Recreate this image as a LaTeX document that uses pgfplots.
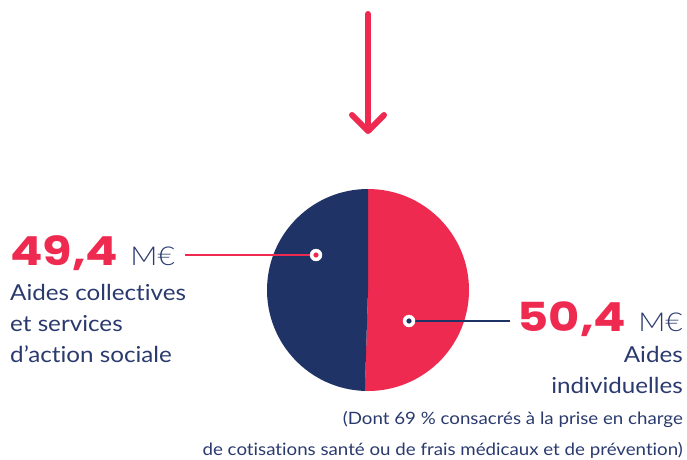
\documentclass[border=0pt]{standalone}
\usepackage{fontspec}
\setmainfont{Lato}[FakeStretch=1.1, RawFeature=-liga]
\newfontfamily\numfont{Poppins}[FakeStretch=1.2]
\newfontfamily\lightfont{Lato}[UprightFont={* Light}, FakeStretch=1.15]
\usepackage{pgfplots}
\usepackage{pgfplotstable}
\pgfplotsset{compat=1.18}
\definecolor{pink}{HTML}{EE2A50}
\definecolor{navy}{HTML}{1F3366}
\definecolor{txt}{HTML}{2A3A6E}
\pgfplotstableread{
label value
collective 49.4
individual 50.4
}\piedata
\pgfplotstablegetelem{0}{value}\of\piedata \let\va\pgfplotsretval
\pgfplotstablegetelem{1}{value}\of\piedata \let\vb\pgfplotsretval
\pgfmathsetmacro{\redfrac}{\vb/(\va+\vb)}
\pgfmathsetmacro{\redend}{90-360*\redfrac}
\begin{document}
\begin{tikzpicture}
\begin{axis}[
  width=687pt, height=459pt, scale only axis,
  xmin=0, xmax=687, ymin=0, ymax=459, y dir=reverse,
  hide axis, clip=false,
]
% pie
\fill[pink] (axis cs:368,290) -- ++(90:101pt) arc[start angle=90, end angle=\redend, radius=101pt] -- cycle;
\fill[navy] (axis cs:368,290) -- ++(\redend:101pt) arc[start angle=\redend, end angle=-270, radius=101pt] -- cycle;
% leader lines
\addplot[pink, line width=1.3pt, no marks] coordinates {(185,255) (316,255)};
\addplot[navy, line width=1.3pt, no marks] coordinates {(409,321) (510,321)};
\addplot[only marks, mark=*, mark size=6pt, white, mark options={draw=white, fill=white}] coordinates {(316,255) (409,321)};
\addplot[only marks, mark=*, mark size=2.3pt, pink, mark options={draw=pink, fill=pink}] coordinates {(316,255)};
\addplot[only marks, mark=*, mark size=2.3pt, navy, mark options={draw=navy, fill=navy}] coordinates {(409,321)};
% arrow
\addplot[pink, line width=6pt, line cap=round, line join=round, no marks] coordinates {(368,14) (368,130)};
\addplot[pink, line width=6pt, line cap=round, line join=round, no marks] coordinates {(352,115) (368,131) (384,115)};
% texts
\node[anchor=base west, inner sep=0pt] at (axis cs:10,265) {\fontsize{40}{40}\selectfont\numfont\bfseries\color{pink}49,4\hspace{12pt}\fontsize{26}{26}\selectfont\mdseries\lightfont\color{txt}M€};
\node[anchor=base west, inner sep=0pt, align=left, text=txt] at (axis cs:10,300) {\fontsize{22}{31}\selectfont Aides collectives};
\node[anchor=base west, inner sep=0pt, text=txt] at (axis cs:10,331) {\fontsize{22}{31}\selectfont et services};
\node[anchor=base west, inner sep=0pt, text=txt] at (axis cs:10,362) {\fontsize{22}{31}\selectfont d’action sociale};
\node[anchor=base east, inner sep=0pt] at (axis cs:683,331) {\fontsize{40}{40}\selectfont\numfont\bfseries\color{pink}50,4\hspace{12pt}\fontsize{26}{26}\selectfont\mdseries\lightfont\color{txt}M€};
\node[anchor=base east, inner sep=0pt, text=txt] at (axis cs:683,362) {\fontsize{22}{31}\selectfont Aides};
\node[anchor=base east, inner sep=0pt, text=txt] at (axis cs:683,393) {\fontsize{22}{31}\selectfont individuelles};
\node[anchor=base east, inner sep=0pt, text=txt] at (axis cs:683,424) {\fontsize{17}{20}\selectfont (Dont 69 \% consacrés à la prise en charge};
\node[anchor=base east, inner sep=0pt, text=txt] at (axis cs:683,455) {\fontsize{17}{20}\selectfont de cotisations santé ou de frais médicaux et de prévention)};
\end{axis}
\pgfresetboundingbox
\path[use as bounding box] (current axis.south west) rectangle (current axis.north east);
\end{tikzpicture}
\end{document}
